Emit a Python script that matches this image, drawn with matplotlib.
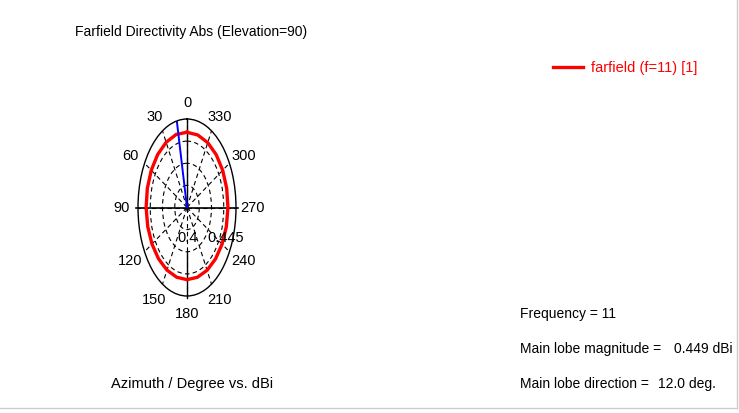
import numpy as np
import matplotlib
matplotlib.use('Agg')
from matplotlib import pyplot as plt
from matplotlib.lines import Line2D

plt.rcParams['font.family'] = ['Liberation Sans', 'DejaVu Sans']

# farfield directivity (abs) vs azimuth, elevation = 90
azimuth_deg = [0, 15, 30, 45, 60, 75, 90, 105, 120, 135, 150, 165,
               180, 195, 210, 225, 240, 255, 270, 285, 300, 315, 330, 345, 360]
directivity = [0.4485, 0.4490, 0.4486, 0.4481, 0.4476, 0.4472, 0.4468, 0.4463,
               0.4458, 0.4453, 0.4449, 0.4447, 0.4447, 0.4448, 0.4451, 0.4455,
               0.4460, 0.4465, 0.4469, 0.4472, 0.4475, 0.4478, 0.4481, 0.4483, 0.4485]

angle_labels = ['0', '30', '60', '90', '120', '150', '180', '210', '240', '270', '300', '330']
angle_ticks = [0, 30, 60, 90, 120, 150, 180, 210, 240, 270, 300, 330]

frequency = 11
main_lobe_mag = 0.449
main_lobe_dir = 12.0
r_min, r_max = 0.355, 0.465
ring_values = [0.3825, 0.41, 0.4375]

fs = 10.5
fs_info = 10

fig = plt.figure(figsize=(7.39, 4.14), dpi=100)
fig.patch.set_facecolor('white')

ax = fig.add_axes([138 / 739, 1 - 297 / 414, 98 / 739, 177 / 414], projection='polar')
ax.set_aspect('auto')
ax.set_theta_zero_location('N')
ax.set_theta_direction(1)
ax.set_ylim(r_min, r_max)

ax.set_thetagrids(angle_ticks, angle_labels, fontsize=fs)
ax.set_rgrids(ring_values, labels=['', '', ''])
ax.grid(True, linestyle=(0, (4, 3)), color='black', linewidth=0.8)
ax.set_xticks(np.radians(np.arange(0, 360, 10)), minor=True)
ax.tick_params(axis='x', which='major', pad=5, length=0)
ax.tick_params(axis='x', which='minor', length=3, direction='in', color='black')
ax.spines['polar'].set_color('black')
ax.spines['polar'].set_linewidth(1.0)

# solid axis lines
th = np.radians
ax.plot([th(90), th(90)], [r_min, r_max + 0.004], color='black', lw=1.2, clip_on=False)
ax.plot([th(270), th(270)], [r_min, r_max + 0.004], color='black', lw=1.2, clip_on=False)
ax.plot([th(0), th(0)], [r_min, r_max], color='black', lw=1.0)
ax.plot([th(180), th(180)], [r_min + 0.5 * (r_max - r_min), r_max + 0.002],
        color='black', lw=1.0, clip_on=False)

ax.plot(np.radians(azimuth_deg), directivity, color='red', lw=2.4)
ax.plot([th(main_lobe_dir), th(main_lobe_dir)], [r_min, r_max], color='blue', lw=1.4)

fig.text(177 / 739, 1 - 238 / 414, '0.4', fontsize=fs, va='center', ha='left')
fig.text(207 / 739, 1 - 238 / 414, '0.445', fontsize=fs, va='center', ha='left')

fig.text(75 / 739, 1 - 32 / 414, 'Farfield Directivity Abs (Elevation=90)',
         fontsize=10, va='center', ha='left')
fig.text(111 / 739, 1 - 384 / 414, 'Azimuth / Degree vs. dBi',
         fontsize=fs, va='center', ha='left')

fig.add_artist(Line2D([553 / 739, 583 / 739], [1 - 68 / 414, 1 - 68 / 414],
                      color='red', lw=2.4))
fig.text(591 / 739, 1 - 68 / 414, 'farfield (f=11) [1]', color='red',
         fontsize=fs, va='center', ha='left')

fig.text(520 / 739, 1 - 314 / 414, 'Frequency = %d' % frequency,
         fontsize=fs_info, va='center', ha='left')
fig.text(520 / 739, 1 - 349 / 414, 'Main lobe magnitude =',
         fontsize=fs_info, va='center', ha='left')
fig.text(733 / 739, 1 - 349 / 414, '%.3f dBi' % main_lobe_mag,
         fontsize=fs_info, va='center', ha='right')
fig.text(520 / 739, 1 - 384 / 414, 'Main lobe direction =',
         fontsize=fs_info, va='center', ha='left')
fig.text(716 / 739, 1 - 384 / 414, '%.1f deg.' % main_lobe_dir,
         fontsize=fs_info, va='center', ha='right')

# light frame on the right and bottom edges
fig.add_artist(Line2D([737 / 739, 737 / 739], [1 - 409 / 414, 1.0], color='#cccccc', lw=1))
fig.add_artist(Line2D([0, 737 / 739], [1 - 409 / 414, 1 - 409 / 414], color='#cccccc', lw=1))

fig.savefig('out.png', dpi=100, facecolor='white')
